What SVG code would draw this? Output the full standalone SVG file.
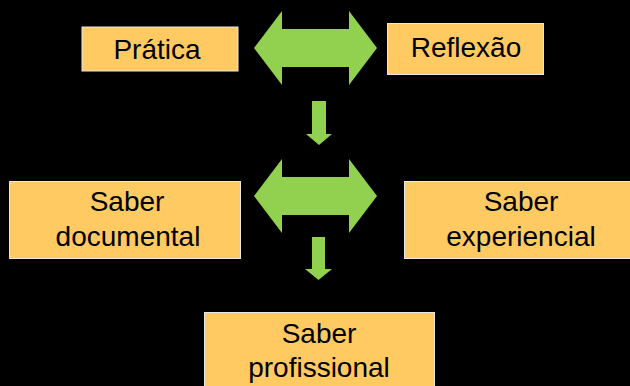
<svg xmlns="http://www.w3.org/2000/svg" width="630" height="386" viewBox="0 0 630 386">
<style>
.box{fill:#FFCA62;stroke:#E8E8E8;stroke-width:1}
.t{font-family:"Liberation Sans",Arial,sans-serif;font-size:28px;fill:#000;text-anchor:middle}
.arr{fill:#92D050}
</style>
<rect width="630" height="386" fill="#000"/>
<g id="pratica"><rect class="box" x="82" y="27" width="156" height="44"/><text class="t" x="157" y="59">Prática</text></g>
<g id="reflexao"><rect class="box" x="387.5" y="23.5" width="156" height="51"/><text class="t" x="466" y="57">Reflexão</text></g>
<g id="saber-documental"><rect class="box" x="9.5" y="181.5" width="231" height="77"/><text class="t" x="127" y="211">Saber</text><text class="t" x="128" y="246">documental</text></g>
<g id="saber-experiencial"><rect class="box" x="404.5" y="181.5" width="234" height="77"/><text class="t" x="521" y="211">Saber</text><text class="t" x="521" y="246">experiencial</text></g>
<g id="saber-profissional"><rect class="box" x="204.5" y="312.5" width="230" height="80"/><text class="t" x="319" y="343">Saber</text><text class="t" x="319" y="377">profissional</text></g>
<g id="connectors">
<polygon class="arr" points="254,48 282,11 282,29 349,29 349,11 377,48 349,85 349,67 282,67 282,85"/>
<polygon class="arr" points="312,101 326,101 326,134 332,134 319,145 306,134 312,134"/>
<polygon class="arr" points="254,196 282,159 282,177 349,177 349,159 377,196 349,233 349,215 282,215 282,233"/>
<polygon class="arr" points="312,237 325,237 325,269 332,269 318.5,280 305,269 312,269"/>
</g>
</svg>
